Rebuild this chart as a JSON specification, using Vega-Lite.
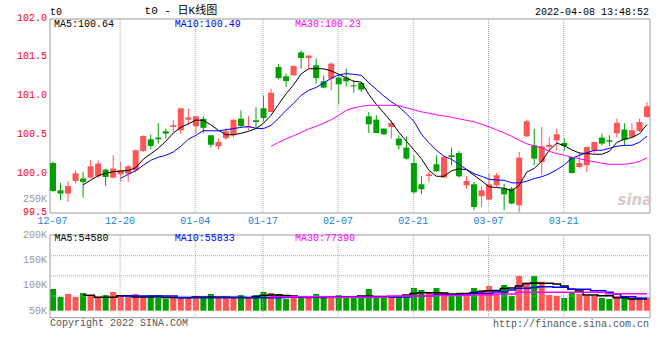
{
"$schema":"https://vega.github.io/schema/vega-lite/v6.json",
"width":600,"height":299,
"autosize":{"type":"none"},
"padding":{"left":50,"top":19,"right":10,"bottom":42},
"background":"#ffffff",
"config":{"view":{"stroke":null}},
"data":{"values":[
{"d":"12-07","o":100.144,"h":100.166,"l":99.773,"c":99.784,"v":93000},
{"d":"12-08","o":99.793,"h":99.887,"l":99.664,"c":99.750,"v":77100},
{"d":"12-09","o":99.750,"h":99.909,"l":99.642,"c":99.848,"v":83100},
{"d":"12-10","o":99.913,"h":100.050,"l":99.883,"c":100.012,"v":77100},
{"d":"12-13","o":99.944,"h":100.025,"l":99.696,"c":99.900,"v":85000,"m5":99.864,"v5":80500},
{"d":"12-14","o":99.956,"h":100.179,"l":99.944,"c":100.102,"v":81100,"m5":99.922,"v5":80500},
{"d":"12-15","o":99.973,"h":100.179,"l":99.947,"c":100.137,"v":77100,"m5":99.980,"v5":76500},
{"d":"12-16","o":100.059,"h":100.072,"l":99.848,"c":99.964,"v":81100,"m5":100.012,"v5":76500},
{"d":"12-17","o":99.956,"h":100.244,"l":99.947,"c":100.072,"v":87000,"m5":100.031,"v5":76500},
{"d":"12-20","o":99.999,"h":100.157,"l":99.900,"c":100.050,"v":79700,"m5":100.041,"m10":99.947,"v5":79700,"v10":79100},
{"d":"12-21","o":100.008,"h":100.115,"l":99.900,"c":100.102,"v":77100,"m5":100.047,"m10":99.999,"v5":79700,"v10":79100},
{"d":"12-22","o":100.050,"h":100.317,"l":100.029,"c":100.308,"v":83100,"m5":100.083,"m10":100.044,"v5":77100,"v10":79100},
{"d":"12-23","o":100.299,"h":100.501,"l":100.286,"c":100.492,"v":77700,"m5":100.192,"m10":100.115,"v5":77100,"v10":79100},
{"d":"12-24","o":100.450,"h":100.510,"l":100.321,"c":100.363,"v":81100,"m5":100.263,"m10":100.179,"v5":77100,"v10":79100},
{"d":"12-27","o":100.472,"h":100.660,"l":100.394,"c":100.450,"v":81100,"m5":100.334,"m10":100.218,"v5":78100,"v10":79100},
{"d":"12-28","o":100.553,"h":100.588,"l":100.459,"c":100.523,"v":73800,"m5":100.424,"m10":100.244,"v5":76100,"v10":79100},
{"d":"12-29","o":100.608,"h":100.694,"l":100.544,"c":100.630,"v":77100,"m5":100.531,"m10":100.286,"v5":76100,"v10":79100},
{"d":"12-30","o":100.566,"h":100.853,"l":100.514,"c":100.849,"v":77100,"m5":100.604,"m10":100.360,"v5":76100,"v10":75700},
{"d":"12-31","o":100.703,"h":100.843,"l":100.630,"c":100.733,"v":77100,"m5":100.649,"m10":100.450,"v5":76100,"v10":75700},
{"d":"01-04","o":100.617,"h":100.750,"l":100.521,"c":100.746,"v":79100,"m5":100.698,"m10":100.501,"v5":77100,"v10":75700},
{"d":"01-05","o":100.714,"h":100.746,"l":100.527,"c":100.598,"v":77100,"m5":100.694,"m10":100.562,"v5":77100,"v10":75700},
{"d":"01-06","o":100.501,"h":100.501,"l":100.343,"c":100.381,"v":83100,"m5":100.636,"m10":100.559,"v5":77100,"v10":75700},
{"d":"01-07","o":100.360,"h":100.463,"l":100.318,"c":100.415,"v":77100,"m5":100.566,"m10":100.559,"v5":77100,"v10":75700},
{"d":"01-10","o":100.463,"h":100.591,"l":100.443,"c":100.553,"v":77100,"m5":100.508,"m10":100.572,"v5":77100,"v10":75700},
{"d":"01-11","o":100.501,"h":100.707,"l":100.475,"c":100.703,"v":77100,"m5":100.508,"m10":100.588,"v5":76500,"v10":75700},
{"d":"01-12","o":100.716,"h":100.823,"l":100.611,"c":100.621,"v":81100,"m5":100.527,"m10":100.604,"v5":76500,"v10":75700},
{"d":"01-13","o":100.600,"h":100.746,"l":100.566,"c":100.617,"v":77100,"m5":100.553,"m10":100.615,"v5":76100,"v10":75700},
{"d":"01-14","o":100.694,"h":100.862,"l":100.598,"c":100.673,"v":81100,"m5":100.588,"m10":100.591,"v5":78100,"v10":75700},
{"d":"01-17","o":100.849,"h":101.016,"l":100.682,"c":100.724,"v":87000,"m5":100.656,"m10":100.588,"v5":80100,"v10":75700},
{"d":"01-18","o":100.801,"h":101.103,"l":100.801,"c":101.051,"v":85000,"m5":100.759,"m10":100.630,"m30":100.360,"v5":81100,"v10":75700,"v30":77700},
{"d":"01-19","o":101.381,"h":101.416,"l":101.219,"c":101.239,"v":83100,"m5":100.900,"m10":100.720,"m30":100.411,"v5":81100,"v10":75700,"v30":77700},
{"d":"01-20","o":101.261,"h":101.296,"l":101.123,"c":101.201,"v":73800,"m5":101.036,"m10":100.823,"m30":100.456,"v5":80100,"v10":76500,"v30":77700},
{"d":"01-21","o":101.274,"h":101.403,"l":101.268,"c":101.394,"v":77100,"m5":101.152,"m10":100.913,"m30":100.495,"v5":79100,"v10":76500,"v30":77700},
{"d":"01-24","o":101.570,"h":101.596,"l":101.360,"c":101.497,"v":77100,"m5":101.293,"m10":101.016,"m30":100.540,"v5":77100,"v10":76500,"v30":77700},
{"d":"01-25","o":101.497,"h":101.532,"l":101.360,"c":101.529,"v":77100,"m5":101.358,"m10":101.081,"m30":100.582,"v5":76100,"v10":76500,"v30":77700},
{"d":"01-26","o":101.403,"h":101.489,"l":101.167,"c":101.239,"v":83100,"m5":101.360,"m10":101.119,"m30":100.617,"v5":77100,"v10":76500,"v30":77700},
{"d":"01-27","o":101.197,"h":101.274,"l":101.107,"c":101.116,"v":77100,"m5":101.358,"m10":101.177,"m30":100.656,"v5":76100,"v10":76500,"v30":77700},
{"d":"01-28","o":101.232,"h":101.441,"l":101.081,"c":101.425,"v":75700,"m5":101.332,"m10":101.235,"m30":100.701,"v5":76500,"v10":77100,"v30":76500},
{"d":"02-07","o":101.244,"h":101.300,"l":100.900,"c":101.158,"v":81100,"m5":101.287,"m10":101.280,"m30":100.759,"v5":77100,"v10":77100,"v30":76500},
{"d":"02-08","o":101.244,"h":101.360,"l":101.132,"c":101.197,"v":79100,"m5":101.242,"m10":101.296,"m30":100.823,"v5":77100,"v10":77100,"v30":76500},
{"d":"02-09","o":101.145,"h":101.210,"l":101.051,"c":101.132,"v":76500,"m5":101.197,"m10":101.287,"m30":100.855,"v5":76500,"v10":77100,"v30":76500},
{"d":"02-10","o":101.175,"h":101.188,"l":101.059,"c":101.090,"v":76500,"m5":101.188,"m10":101.274,"m30":100.875,"v5":79100,"v10":77100,"v30":76500},
{"d":"02-11","o":100.746,"h":100.801,"l":100.531,"c":100.643,"v":93000,"m5":101.029,"m10":101.177,"m30":100.888,"v5":79100,"v10":77100,"v30":76500},
{"d":"02-14","o":100.703,"h":100.759,"l":100.527,"c":100.531,"v":76500,"m5":100.900,"m10":101.094,"m30":100.888,"v5":78100,"v10":77100,"v30":76500},
{"d":"02-15","o":100.588,"h":100.588,"l":100.508,"c":100.514,"v":76500,"m5":100.791,"m10":101.007,"m30":100.888,"v5":78100,"v10":77100,"v30":76500},
{"d":"02-16","o":100.608,"h":100.694,"l":100.459,"c":100.660,"v":76500,"m5":100.675,"m10":100.933,"m30":100.888,"v5":77100,"v10":77100,"v30":79100},
{"d":"02-17","o":100.459,"h":100.501,"l":100.317,"c":100.372,"v":76500,"m5":100.540,"m10":100.868,"m30":100.881,"v5":78100,"v10":77100,"v30":79100},
{"d":"02-18","o":100.343,"h":100.488,"l":100.188,"c":100.201,"v":81100,"m5":100.424,"m10":100.778,"m30":100.855,"v5":81100,"v10":77100,"v30":79100},
{"d":"02-21","o":100.144,"h":100.244,"l":99.750,"c":99.767,"v":94900,"m5":100.314,"m10":100.682,"m30":100.830,"v5":84100,"v10":79100,"v30":79100},
{"d":"02-22","o":99.870,"h":99.973,"l":99.741,"c":99.806,"v":91000,"m5":100.199,"m10":100.514,"m30":100.804,"v5":85600,"v10":79100,"v30":79100},
{"d":"02-23","o":99.977,"h":100.029,"l":99.900,"c":99.999,"v":85600,"m5":100.050,"m10":100.405,"m30":100.785,"v5":85600,"v10":79100,"v30":79100},
{"d":"02-24","o":100.128,"h":100.244,"l":100.029,"c":100.038,"v":94900,"m5":99.973,"m10":100.308,"m30":100.765,"v5":85600,"v10":81100,"v30":80100},
{"d":"02-25","o":99.956,"h":100.222,"l":99.956,"c":100.222,"v":85600,"m5":99.973,"m10":100.231,"m30":100.752,"v5":85000,"v10":81100,"v30":80100},
{"d":"02-28","o":100.244,"h":100.343,"l":100.115,"c":100.222,"v":79100,"m5":100.044,"m10":100.192,"m30":100.733,"v5":83100,"v10":81100,"v30":80100},
{"d":"03-01","o":100.273,"h":100.299,"l":99.956,"c":99.973,"v":85600,"m5":100.070,"m10":100.128,"m30":100.714,"v5":83100,"v10":81100,"v30":80100},
{"d":"03-02","o":99.857,"h":99.973,"l":99.815,"c":99.913,"v":79100,"m5":100.057,"m10":100.063,"m30":100.694,"v5":84100,"v10":81100,"v30":81100},
{"d":"03-03","o":99.870,"h":99.900,"l":99.535,"c":99.578,"v":94900,"m5":99.986,"m10":100.005,"m30":100.675,"v5":86000,"v10":84100,"v30":81100},
{"d":"03-04","o":99.716,"h":99.844,"l":99.578,"c":99.793,"v":91000,"m5":99.915,"m10":99.973,"m30":100.643,"v5":88000,"v10":84100,"v30":81100},
{"d":"03-07","o":99.673,"h":100.008,"l":99.664,"c":99.870,"v":98900,"m5":99.838,"m10":99.934,"m30":100.611,"v5":89600,"v10":84100,"v30":81100},
{"d":"03-08","o":99.857,"h":100.016,"l":99.835,"c":99.986,"v":83100,"m5":99.828,"m10":99.926,"m30":100.572,"v5":90000,"v10":87000,"v30":83100},
{"d":"03-09","o":99.815,"h":99.879,"l":99.535,"c":99.741,"v":100900,"m5":99.819,"m10":99.922,"m30":100.533,"v5":94000,"v10":87000,"v30":83100},
{"d":"03-10","o":99.815,"h":99.835,"l":99.613,"c":99.622,"v":79100,"m5":99.786,"m10":99.889,"m30":100.488,"v5":94900,"v10":91000,"v30":83100},
{"d":"03-11","o":99.600,"h":100.286,"l":99.513,"c":100.214,"v":118700,"m5":99.857,"m10":99.887,"m30":100.437,"v5":98900,"v10":94400,"v30":86400},
{"d":"03-14","o":100.488,"h":100.703,"l":100.482,"c":100.682,"v":105400,"m5":100.025,"m10":99.909,"m30":100.392,"v5":103900,"v10":94400,"v30":86400},
{"d":"03-15","o":100.372,"h":100.585,"l":100.115,"c":100.201,"v":118700,"m5":100.076,"m10":99.944,"m30":100.366,"v5":104800,"v10":95900,"v30":86400},
{"d":"03-16","o":100.157,"h":100.608,"l":99.986,"c":100.360,"v":107400,"m5":100.166,"m10":99.967,"m30":100.340,"v5":104200,"v10":97500,"v30":86400},
{"d":"03-17","o":100.351,"h":100.475,"l":100.308,"c":100.379,"v":81100,"m5":100.308,"m10":100.005,"m30":100.295,"v5":104200,"v10":97500,"v30":86400},
{"d":"03-18","o":100.437,"h":100.588,"l":100.308,"c":100.514,"v":79100,"m5":100.402,"m10":100.057,"m30":100.266,"v5":103000,"v10":96500,"v30":86400},
{"d":"03-21","o":100.402,"h":100.463,"l":100.299,"c":100.363,"v":75100,"m5":100.366,"m10":100.121,"m30":100.244,"v5":98900,"v10":96500,"v30":86400},
{"d":"03-22","o":100.222,"h":100.222,"l":100.008,"c":100.016,"v":85600,"m5":100.314,"m10":100.205,"m30":100.218,"v5":92400,"v10":92400,"v30":86400},
{"d":"03-23","o":100.093,"h":100.286,"l":100.072,"c":100.144,"v":83100,"m5":100.273,"m10":100.244,"m30":100.199,"v5":89000,"v10":92400,"v30":86400},
{"d":"03-24","o":100.115,"h":100.351,"l":100.031,"c":100.351,"v":79100,"m5":100.266,"m10":100.276,"m30":100.179,"v5":81100,"v10":92400,"v30":86400},
{"d":"03-25","o":100.302,"h":100.415,"l":100.273,"c":100.415,"v":79100,"m5":100.257,"m10":100.308,"m30":100.160,"v5":81100,"v10":89600,"v30":86400},
{"d":"03-28","o":100.472,"h":100.523,"l":100.372,"c":100.394,"v":75100,"m5":100.257,"m10":100.308,"m30":100.141,"v5":79700,"v10":89600,"v30":86400},
{"d":"03-29","o":100.437,"h":100.501,"l":100.363,"c":100.418,"v":73200,"m5":100.295,"m10":100.334,"m30":100.128,"v5":79700,"v10":86400,"v30":83700},
{"d":"03-30","o":100.527,"h":100.716,"l":100.475,"c":100.662,"v":79100,"m5":100.411,"m10":100.360,"m30":100.128,"v5":75700,"v10":83100,"v30":83700},
{"d":"03-31","o":100.575,"h":100.656,"l":100.366,"c":100.443,"v":79100,"m5":100.450,"m10":100.372,"m30":100.128,"v5":75700,"v10":77700,"v30":83700},
{"d":"04-01","o":100.479,"h":100.656,"l":100.472,"c":100.566,"v":76500,"m5":100.472,"m10":100.372,"m30":100.141,"v5":73200,"v10":77700,"v30":83700},
{"d":"04-06","o":100.559,"h":100.716,"l":100.546,"c":100.673,"v":76500,"m5":100.523,"m10":100.411,"m30":100.166,"v5":73200,"v10":74600,"v30":83700},
{"d":"04-07","o":100.737,"h":100.930,"l":100.729,"c":100.875,"v":76500,"m5":100.64,"m10":100.49,"m30":100.21,"v5":73200,"v10":74600,"v30":83700}
]},
"layer":[
{"layer":[
 {"mark":{"type":"rule","strokeWidth":1},
  "encoding":{"x":{"field":"d","type":"ordinal","scale":{"domain":["12-07","12-08","12-09","12-10","12-13","12-14","12-15","12-16","12-17","12-20","12-21","12-22","12-23","12-24","12-27","12-28","12-29","12-30","12-31","01-04","01-05","01-06","01-07","01-10","01-11","01-12","01-13","01-14","01-17","01-18","01-19","01-20","01-21","01-24","01-25","01-26","01-27","01-28","02-07","02-08","02-09","02-10","02-11","02-14","02-15","02-16","02-17","02-18","02-21","02-22","02-23","02-24","02-25","02-28","03-01","03-02","03-03","03-04","03-07","03-08","03-09","03-10","03-11","03-14","03-15","03-16","03-17","03-18","03-21","03-22","03-23","03-24","03-25","03-28","03-29","03-30","03-31","04-01","04-06","04-07"],"paddingInner":0.2,"paddingOuter":0},"axis":null},
   "y":{"field":"l","type":"quantitative","scale":{"domain":[99.5,102],"range":[194,0],"zero":false,"nice":false},
    "axis":{"orient":"left","values":[100,100.5,101,101.5],"labels":false,"domain":false,"ticks":false,"grid":true,"gridColor":"#aaaaaa","gridDash":[1,1],"title":null}},
   "y2":{"field":"h"},
   "color":{"condition":{"test":"datum.c >= datum.o","value":"#ff5555"},"value":"#00a000"}}},
 {"data":{"values":[{}]},"mark":{"type":"rect","fill":"transparent","stroke":"#999999","strokeWidth":1},
  "encoding":{"y":{"datum":102,"type":"quantitative","axis":null},"y2":{"datum":99.5}}},
 {"transform":[{"filter":{"field":"d","oneOf":["12-20","01-04","01-17","02-07","02-21","03-07","03-21"]}}],
  "mark":{"type":"rule","color":"#aaaaaa","strokeDash":[1,1],"strokeWidth":1},
  "encoding":{"x":{"field":"d","type":"ordinal","bandPosition":0.4,"axis":null},"y":{"datum":102,"type":"quantitative","axis":null},"y2":{"datum":99.5}}},
 {"mark":{"type":"bar"},
  "encoding":{"x":{"field":"d","type":"ordinal","axis":null},"y":{"field":"o","type":"quantitative","axis":null},"y2":{"field":"c"},
   "color":{"condition":{"test":"datum.c >= datum.o","value":"#ff5555"},"value":"#00a000"}}},
 {"mark":{"type":"line","color":"#000000","strokeWidth":1},"encoding":{"x":{"field":"d","type":"ordinal","axis":null},"y":{"field":"m5","type":"quantitative","axis":null}}},
 {"mark":{"type":"line","color":"#0000ff","strokeWidth":1},"encoding":{"x":{"field":"d","type":"ordinal","axis":null},"y":{"field":"m10","type":"quantitative","axis":null}}},
 {"mark":{"type":"line","color":"#ff00ff","strokeWidth":1},"encoding":{"x":{"field":"d","type":"ordinal","axis":null},"y":{"field":"m30","type":"quantitative","axis":null}}},
 {"data":{"values":[{"p":99.5},{"p":100},{"p":100.5},{"p":101},{"p":101.5},{"p":102}]},
  "mark":{"type":"text","align":"right","baseline":"middle","font":"Liberation Mono","fontSize":10,"color":"#ff0000","dx":-6,"dy":-1.5},
  "encoding":{"x":{"datum":"12-07","type":"ordinal","axis":null},"y":{"field":"p","type":"quantitative","axis":null},"text":{"field":"p","type":"quantitative","format":".1f"}}},
 {"transform":[{"filter":{"field":"d","oneOf":["12-07","12-20","01-04","01-17","02-07","02-21","03-07","03-21"]}}],
  "mark":{"type":"text","align":"center","baseline":"middle","font":"Liberation Mono","fontSize":10,"color":"#1a7fd4"},
  "encoding":{"x":{"field":"d","type":"ordinal","bandPosition":0.4,"axis":null},"y":{"datum":99.396,"type":"quantitative","axis":null},"text":{"field":"d","type":"nominal"}}},
 {"data":{"values":[{}]},"mark":{"type":"text","text":"MA5:100.64","align":"left","baseline":"middle","font":"Liberation Mono","fontSize":10,"color":"#000000","dx":1},
  "encoding":{"x":{"datum":"12-07","type":"ordinal","axis":null},"y":{"datum":101.936,"type":"quantitative","axis":null}}},
 {"data":{"values":[{}]},"mark":{"type":"text","text":"MA10:100.49","align":"left","baseline":"middle","font":"Liberation Mono","fontSize":10,"color":"#0000ff","dx":1.5},
  "encoding":{"x":{"datum":"12-29","type":"ordinal","axis":null},"y":{"datum":101.936,"type":"quantitative","axis":null}}},
 {"data":{"values":[{}]},"mark":{"type":"text","text":"MA30:100.23","align":"left","baseline":"middle","font":"Liberation Mono","fontSize":10,"color":"#ff00ff","dx":1.5},
  "encoding":{"x":{"datum":"01-21","type":"ordinal","axis":null},"y":{"datum":101.936,"type":"quantitative","axis":null}}},
 {"data":{"values":[{}]},"mark":{"type":"text","text":"t0 - 日K线图","align":"center","baseline":"middle","font":"Liberation Mono, Noto Sans CJK SC","fontSize":11,"color":"#000000"},
  "encoding":{"x":{"datum":"12-30","type":"ordinal","axis":null},"y":{"datum":102.1,"type":"quantitative","axis":null}}},
 {"data":{"values":[{}]},"mark":{"type":"text","text":"t0","align":"left","baseline":"middle","font":"Liberation Mono","fontSize":10,"color":"#000000","dx":-3},
  "encoding":{"x":{"datum":"12-07","type":"ordinal","axis":null},"y":{"datum":102.09,"type":"quantitative","axis":null}}},
 {"data":{"values":[{}]},"mark":{"type":"text","text":"2022-04-08 13:48:52","align":"right","baseline":"middle","font":"Liberation Mono","fontSize":10,"color":"#000000","dx":2},
  "encoding":{"x":{"datum":"04-07","type":"ordinal","axis":null},"y":{"datum":102.09,"type":"quantitative","axis":null}}},
 {"data":{"values":[{}]},"mark":{"type":"text","text":"sina","align":"center","baseline":"middle","font":"DejaVu Sans","fontSize":15,"fontWeight":"bold","fontStyle":"italic","color":"#d9c9c9","dx":3},
  "encoding":{"x":{"datum":"04-01","type":"ordinal","axis":null},"y":{"datum":99.669,"type":"quantitative","axis":null}}}
]},
{"layer":[
 {"mark":{"type":"bar"},
  "encoding":{"x":{"field":"d","type":"ordinal","axis":null},
   "y":{"field":"v","type":"quantitative","scale":{"domain":[36100,200000],"range":[298.7,216],"zero":false,"nice":false},"axis":null},
   "y2":{"datum":50000},
   "color":{"condition":{"test":"datum.c >= datum.o","value":"#ff5555"},"value":"#00a000"}}},
 {"data":{"values":[{}]},"mark":{"type":"rect","fill":"transparent","stroke":"#999999","strokeWidth":1},
  "encoding":{"y":{"datum":200000,"type":"quantitative","axis":null},"y2":{"datum":36100}}},
 {"data":{"values":[{}]},"mark":{"type":"rule","color":"#aaaaaa","strokeDash":[1,1]},"encoding":{"y":{"datum":79000,"type":"quantitative","axis":null}}},
 {"data":{"values":[{}]},"mark":{"type":"rule","color":"#aaaaaa","strokeDash":[1,1]},"encoding":{"y":{"datum":119000,"type":"quantitative","axis":null}}},
 {"data":{"values":[{}]},"mark":{"type":"rule","color":"#aaaaaa","strokeDash":[1,1]},"encoding":{"y":{"datum":159000,"type":"quantitative","axis":null}}},
 {"transform":[{"filter":{"field":"d","oneOf":["12-20","01-04","01-17","02-07","02-21","03-07","03-21"]}}],
  "mark":{"type":"rule","color":"#aaaaaa","strokeDash":[1,1],"strokeWidth":1},
  "encoding":{"x":{"field":"d","type":"ordinal","bandPosition":0.4,"axis":null},"y":{"datum":200000,"type":"quantitative","axis":null},"y2":{"datum":36100}}},
 {"mark":{"type":"line","color":"#000000","strokeWidth":1.5,"interpolate":"step"},"encoding":{"x":{"field":"d","type":"ordinal","axis":null},"y":{"field":"v5","type":"quantitative","axis":null}}},
 {"mark":{"type":"line","color":"#0000ff","strokeWidth":1.5,"interpolate":"step"},"encoding":{"x":{"field":"d","type":"ordinal","axis":null},"y":{"field":"v10","type":"quantitative","axis":null}}},
 {"mark":{"type":"line","color":"#ff00ff","strokeWidth":1.5,"interpolate":"step"},"encoding":{"x":{"field":"d","type":"ordinal","axis":null},"y":{"field":"v30","type":"quantitative","axis":null}}},
 {"data":{"values":[{"q":50000,"s":"50K"},{"q":100000,"s":"100K"},{"q":150000,"s":"150K"},{"q":200000,"s":"200K"}]},
  "mark":{"type":"text","align":"right","baseline":"middle","font":"Liberation Mono","fontSize":10,"color":"#999999","dx":-6},
  "encoding":{"x":{"datum":"12-07","type":"ordinal","axis":null},"y":{"field":"q","type":"quantitative","axis":null},"text":{"field":"s","type":"nominal"}}},
 {"data":{"values":[{}]},"mark":{"type":"text","text":"MA5:54580","align":"left","baseline":"middle","font":"Liberation Mono","fontSize":10,"color":"#000000","dx":1.5},
  "encoding":{"x":{"datum":"12-07","type":"ordinal","axis":null},"y":{"datum":193500,"type":"quantitative","axis":null}}},
 {"data":{"values":[{}]},"mark":{"type":"text","text":"MA10:55833","align":"left","baseline":"middle","font":"Liberation Mono","fontSize":10,"color":"#0000ff","dx":1.5},
  "encoding":{"x":{"datum":"12-29","type":"ordinal","axis":null},"y":{"datum":193500,"type":"quantitative","axis":null}}},
 {"data":{"values":[{}]},"mark":{"type":"text","text":"MA30:77390","align":"left","baseline":"middle","font":"Liberation Mono","fontSize":10,"color":"#ff00ff","dx":1.5},
  "encoding":{"x":{"datum":"01-21","type":"ordinal","axis":null},"y":{"datum":193500,"type":"quantitative","axis":null}}},
 {"data":{"values":[{}]},"mark":{"type":"text","text":"250K","align":"right","baseline":"middle","font":"Liberation Mono","fontSize":10,"color":"#999999","dx":-6},
  "encoding":{"x":{"datum":"12-07","type":"ordinal","axis":null},"y":{"datum":271300,"type":"quantitative","axis":null}}},
 {"data":{"values":[{}]},"mark":{"type":"text","text":"Copyright 2022 SINA.COM","align":"left","baseline":"middle","font":"Liberation Mono","fontSize":10,"color":"#555555","dx":-3},
  "encoding":{"x":{"datum":"12-07","type":"ordinal","axis":null},"y":{"datum":25600,"type":"quantitative","axis":null}}},
 {"data":{"values":[{}]},"mark":{"type":"text","text":"http://finance.sina.com.cn","align":"right","baseline":"middle","font":"Liberation Mono","fontSize":10,"color":"#555555","dx":2},
  "encoding":{"x":{"datum":"04-07","type":"ordinal","axis":null},"y":{"datum":23600,"type":"quantitative","axis":null}}}
]}
],
"resolve":{"scale":{"y":"independent"}}
}
